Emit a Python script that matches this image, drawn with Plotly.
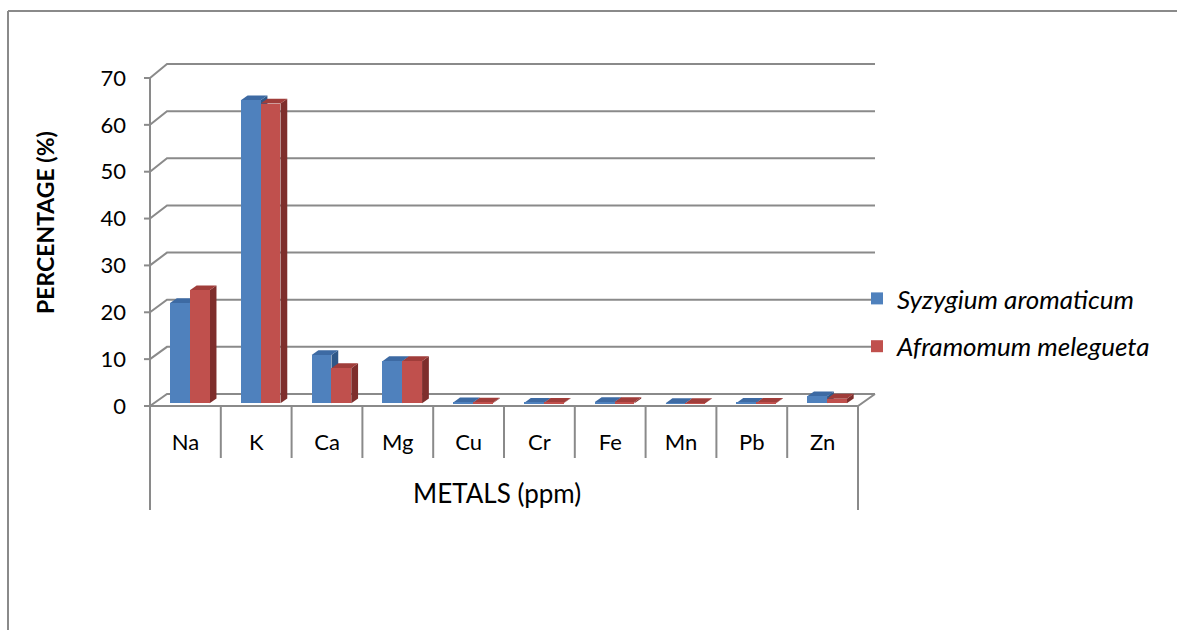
import plotly.graph_objects as go

# ---------------- data ----------------
categories = ["Na", "K", "Ca", "Mg", "Cu", "Cr", "Fe", "Mn", "Pb", "Zn"]
syzygium = [21.4, 64.6, 10.3, 9.0, 0.2, 0.1, 0.3, 0.05, 0.1, 1.5]
aframomum = [24.1, 63.9, 7.5, 9.0, 0.15, 0.1, 0.3, 0.05, 0.1, 1.0]
series_names = ["Syzygium aromaticum", "Aframomum melegueta"]
y_ticks = [0, 10, 20, 30, 40, 50, 60, 70]
x_title = "METALS (ppm)"
y_title = "PERCENTAGE (%)"

# ---------------- layout geometry (pixels) ----------------
W, H = 1177, 630
PL, PR, PT, PB = 140, 890, 50, 520
KX, OX = 70.8, 189.14      # px per category, px of category 0 (bar plane)
KY, OY = 4.692, 403.36     # px per unit, px of value 0 (bar plane)

FONT = "Lato"
GRID = "#8a8a8a"
BLUE, BLUE_TOP, BLUE_SIDE = "#4F81BD", "#3D6AA3", "#2F5888"
RED, RED_TOP, RED_SIDE = "#C0504D", "#A03D3A", "#7E2E2C"


def dx(px):
    return (px - OX) / KX


def dy(py):
    return (OY - py) / KY


def front(c, v):
    return 150 + KX * (c + 0.5), 406 - 4.686 * v


def proj(c, v, d):
    fx, fy = front(c, v)
    bx, by = fx + 17, 394 - 4.714 * v
    return dx(fx + (bx - fx) * d), dy(fy + (by - fy) * d)


def path(points):
    return "M" + " L".join(f"{x:.4f},{y:.4f}" for x, y in points) + " Z"


def line_path(points):
    return "M" + " L".join(f"{x:.4f},{y:.4f}" for x, y in points)


n = len(categories)
shapes = []

def add_line(points, color=GRID, width=2):
    shapes.append(dict(type="path", path=line_path(points), xref="x", yref="y",
                       line=dict(color=color, width=width), layer="below"))

# back wall + side wall gridlines
for v in y_ticks:
    add_line([proj(-0.5, v, 0), proj(-0.5, v, 1), proj(n - 0.5, v, 1)])
# front vertical axis
add_line([proj(-0.5, 0, 0), proj(-0.5, y_ticks[-1], 0)])
# tick marks
for v in y_ticks:
    fx, fy = front(-0.5, v)
    add_line([(dx(fx - 6), dy(fy)), (dx(fx), dy(fy))])
# floor front edge and right edge
add_line([proj(-0.5, 0, 0), proj(n - 0.5, 0, 0), proj(n - 0.5, 0, 1)])
# category table lines
for k in range(n + 1):
    fx, fy = front(k - 0.5, 0)
    bottom = 510 if k in (0, n) else 458
    add_line([(dx(fx), dy(fy)), (dx(fx), dy(bottom))])

# 3D faces of bars
BW = 0.28
DEPX = 6.8 / KX
DEPY = 4.8 / KY
offsets = [-0.27, 0.01]
tops = [BLUE_TOP, RED_TOP]
sides = [BLUE_SIDE, RED_SIDE]
for s, vals in enumerate([syzygium, aframomum]):
    for i, v in enumerate(vals):
        x0 = i + offsets[s]
        x1 = x0 + BW
        shapes.append(dict(type="path", xref="x", yref="y", layer="below",
                           path=path([(x1, 0), (x1, v), (x1 + DEPX, v + DEPY), (x1 + DEPX, DEPY)]),
                           fillcolor=sides[s], line=dict(width=0)))
        shapes.append(dict(type="path", xref="x", yref="y", layer="below",
                           path=path([(x0, v), (x1, v), (x1 + DEPX, v + DEPY), (x0 + DEPX, v + DEPY)]),
                           fillcolor=tops[s], line=dict(width=0)))

# outer chart border (left and top)
def px_to_paper_x(px):
    return (px - PL) / (PR - PL)


def px_to_paper_y(py):
    return (PB - py) / (PB - PT)

shapes.append(dict(type="line", xref="paper", yref="paper",
                   x0=px_to_paper_x(8), y0=px_to_paper_y(11), x1=px_to_paper_x(8), y1=px_to_paper_y(660),
                   line=dict(color=GRID, width=2)))
shapes.append(dict(type="line", xref="paper", yref="paper",
                   x0=px_to_paper_x(8), y0=px_to_paper_y(11), x1=px_to_paper_x(1200), y1=px_to_paper_y(11),
                   line=dict(color=GRID, width=2)))

fig = go.Figure()
for s, (vals, col) in enumerate([(syzygium, BLUE), (aframomum, RED)]):
    fig.add_trace(go.Bar(
        x=list(range(n)), y=vals, width=BW, offset=offsets[s],
        marker=dict(color=col, line=dict(width=0)),
        name=f"<i>{series_names[s]}</i>", legendgroup=f"g{s}",
    ))

x_tickvals = [dx(front(i, 0)[0]) for i in range(n)]
y_tickvals = [dy(front(-0.5, v)[1]) for v in y_ticks]

fig.update_layout(
    width=W, height=H, autosize=False,
    margin=dict(l=PL, r=W - PR, t=PT, b=H - PB, pad=0),
    paper_bgcolor="white", plot_bgcolor="white",
    barmode="overlay", bargap=0,
    font=dict(family=FONT, size=22, color="#000000"),
    showlegend=True,
    legend=dict(x=px_to_paper_x(857), y=px_to_paper_y(275), xanchor="left", yanchor="top",
                font=dict(family=FONT, size=26, color="#000000"),
                tracegroupgap=11, bgcolor="rgba(0,0,0,0)"),
    xaxis=dict(range=[dx(PL), dx(PR)], showgrid=False, zeroline=False, showline=False,
               tickmode="array", tickvals=x_tickvals, ticktext=categories, ticks="",
               anchor="free", position=px_to_paper_y(406), ticklabelstandoff=21,
               tickfont=dict(family=FONT, size=22)),
    yaxis=dict(range=[dy(PB), dy(PT)], showgrid=False, zeroline=False, showline=False,
               tickmode="array", tickvals=y_tickvals, ticktext=[str(v) for v in y_ticks],
               ticks="", ticklabelstandoff=13, tickfont=dict(family=FONT, size=22)),
    shapes=shapes,
    annotations=[
        dict(text=x_title, xref="paper", yref="paper", x=px_to_paper_x(497), y=px_to_paper_y(493),
             showarrow=False, font=dict(family=FONT, size=26), xanchor="center", yanchor="middle"),
        dict(text=f"<b>{y_title}</b>", xref="paper", yref="paper", x=px_to_paper_x(45), y=px_to_paper_y(222),
             showarrow=False, textangle=-90, font=dict(family=FONT, size=23), xanchor="center", yanchor="middle"),
    ],
)

fig.write_html("out.html")
